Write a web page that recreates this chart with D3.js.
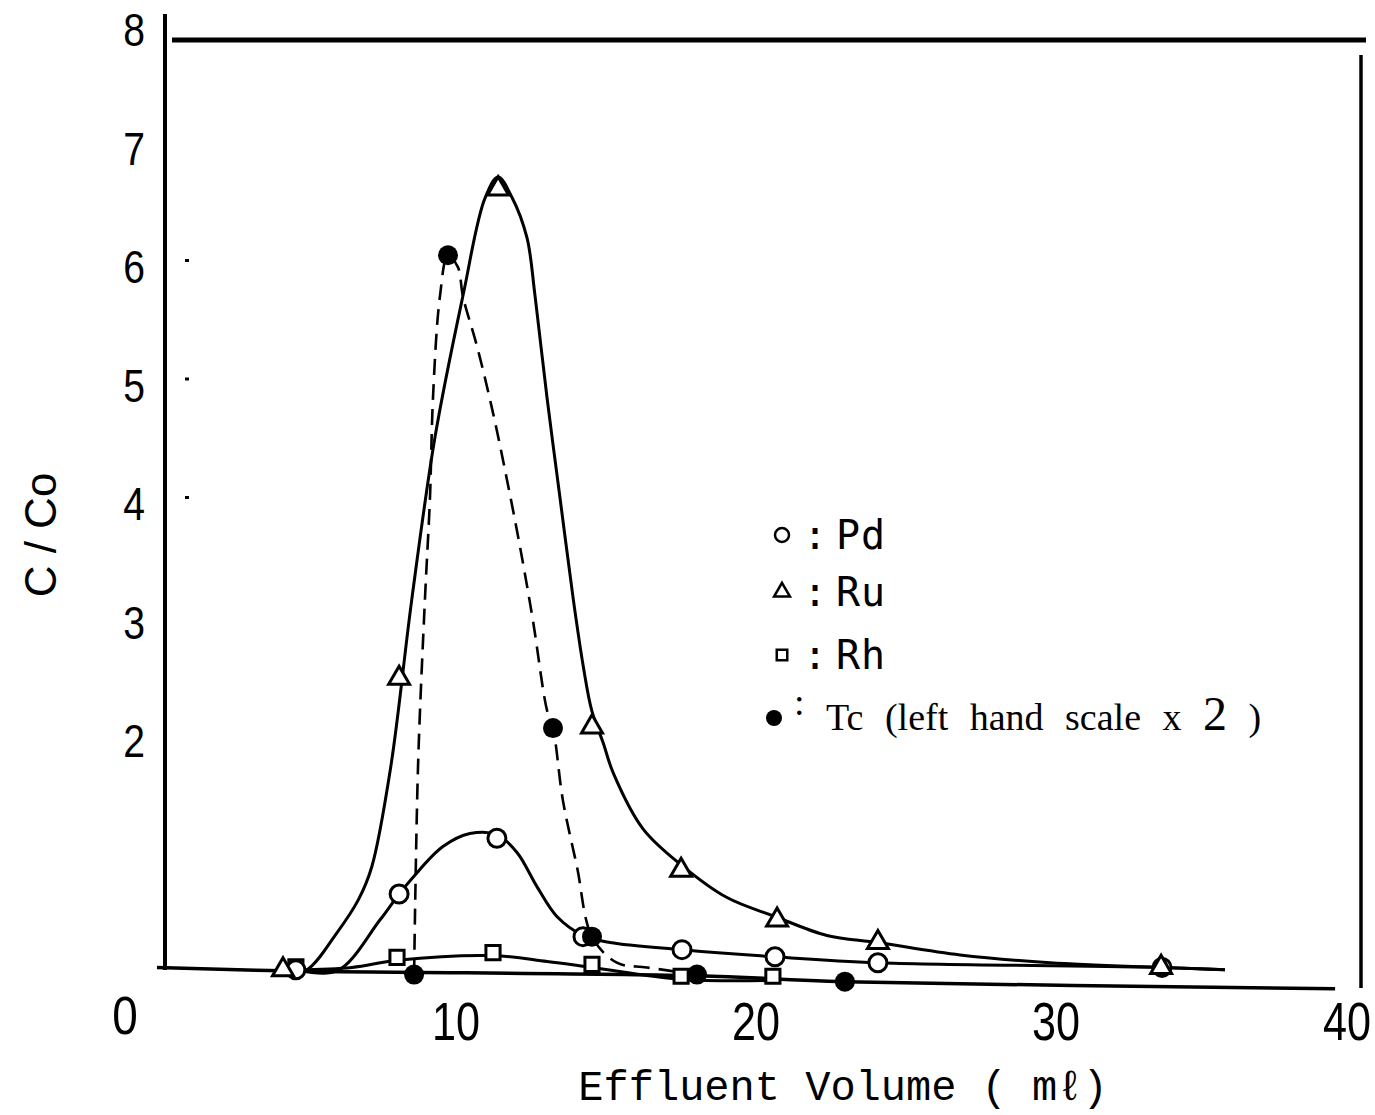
<!DOCTYPE html>
<html lang="en">
<head>
  <meta charset="UTF-8">
  <title>C/Co vs Effluent Volume</title>
  <script src="https://d3js.org/d3.v7.min.js"></script>
  <style>
    body { margin: 0; background: #fff; }
    svg { display: block; }
    .num { font-family: "Liberation Sans", Arial, sans-serif; fill: #000; }
    .legend-txt { font-family: "DejaVu Sans Mono", monospace; font-size: 40px; letter-spacing: 1px; fill: #000; }
    .legend-serif { font-family: "Liberation Serif", "DejaVu Serif", serif; font-size: 38px; fill: #000; }
  </style>
</head>
<body>
<svg id="chart" width="1375" height="1115"></svg>
<script>
// ---- data (x = effluent volume in ml, y = C/Co) ----
const yTicks = [2, 3, 4, 5, 6, 7, 8];
const xTicks = [10, 20, 30, 40];

// marker positions
const pdPoints = [[4.63, 0.01], [8.07, 0.65], [11.33, 1.12], [14.2, 0.29], [17.5, 0.18], [20.6, 0.12], [24.03, 0.07], [33.5, 0.03]];
const ruPoints = [[4.2, 0.01], [8.07, 2.47], [11.37, 6.6], [14.5, 2.06], [17.47, 0.85], [20.67, 0.43], [24.03, 0.24], [33.47, 0.03]];
const rhPoints = [[4.63, 0.01], [8.0, 0.09], [11.2, 0.13], [14.5, 0.03], [17.47, -0.07], [20.53, -0.07]];
const tcPoints = [[8.57, -0.03], [9.7, 6.04], [13.2, 2.05], [14.5, 0.29], [18.0, -0.03], [22.93, -0.09]];

// hand-drawn curves
const pdCurve = [[4.63, 0.01], [6.0, 0.0], [7.43, 0.43], [8.07, 0.65], [8.53, 0.79], [9.53, 1.05], [10.43, 1.16],
  [11.33, 1.15], [12.0, 1.0], [12.67, 0.71], [13.33, 0.46], [14.2, 0.3], [15.1, 0.24], [17.5, 0.18],
  [20.6, 0.12], [24.03, 0.07], [33.5, 0.03], [35.6, 0.01]];
const ruCurve = [[4.4, 0.0], [4.99, 0.01], [5.99, 0.32], [6.71, 0.6], [7.16, 0.88],
  [7.79, 1.72], [8.49, 3.13], [9.27, 4.51], [10.2, 5.7], [10.93, 6.52], [11.37, 6.7], [11.83, 6.53],
  [12.33, 6.19], [12.6, 5.7], [13.0, 4.84], [13.43, 4.0], [13.88, 3.13], [14.21, 2.57], [14.49, 2.2],
  [14.88, 1.92], [15.21, 1.67], [16.2, 1.2], [17.5, 0.89], [19.0, 0.62],
  [20.6, 0.46], [22.33, 0.3], [24.03, 0.24], [26.77, 0.135], [29.77, 0.07], [33.5, 0.03], [35.6, 0.01]];
const rhCurve = [[4.63, 0.01], [6.5, 0.03], [8.0, 0.09], [11.2, 0.13], [13.0, 0.08], [14.5, 0.03], [17.47, -0.07], [20.53, -0.08]];
const tcCurve = [[8.57, -0.03], [8.7, 1.72], [8.93, 3.13], [9.1, 4.0], [9.2, 4.84], [9.43, 5.69], [9.7, 6.04],
  [10.03, 5.94], [10.2, 5.69], [10.67, 5.27], [11.2, 4.71], [11.67, 4.14], [12.1, 3.58], [12.53, 2.96],
  [13.0, 2.2], [13.2, 2.05], [13.53, 1.44], [14.0, 0.88], [14.5, 0.29], [15.33, 0.07], [16.33, 0.03], [18.0, -0.03]];
const baseline = [[0, 0.03], [4.63, 0.0], [18.0, -0.04], [22.93, -0.09], [39.27, -0.15]];

const legendItems = ["Pd", "Ru", "Rh", "Tc (left hand scale x "];

const svg = d3.select("#chart");
const x = d3.scaleLinear().domain([0, 40]).range([157, 1357]);
const y = d3.scaleLinear().domain([0, 8]).range([971, 23]);

// narrow numerals: plain sans squeezed sideways
function narrowText(px, py, str, size, sx) {
  return svg.append("text")
    .attr("class", "num")
    .attr("transform", `translate(${px},${py}) scale(${sx},1)`)
    .attr("text-anchor", "middle")
    .attr("font-size", size)
    .text(str);
}

// frame
svg.append("line").attr("x1", 165).attr("x2", 165).attr("y1", 14).attr("y2", 970)
  .attr("stroke", "#000").attr("stroke-width", 4);
svg.append("line").attr("x1", 172).attr("x2", 1366).attr("y1", 40).attr("y2", 40)
  .attr("stroke", "#000").attr("stroke-width", 5);
svg.append("line").attr("x1", 1361).attr("x2", 1361).attr("y1", 55).attr("y2", 988)
  .attr("stroke", "#000").attr("stroke-width", 3.5);

// y tick labels
yTicks.forEach(d => narrowText(134, y(d) + 23, d, 46, 0.85));
// tiny tick dots on left
svg.selectAll(".ydot").data([4, 5, 6]).enter().append("rect")
  .attr("x", 185).attr("y", d => y(d) - 1).attr("width", 4).attr("height", 3).attr("fill", "#000");

// x tick labels (the last one sits a little in from the frame)
narrowText(125, 1034, "0", 54, 0.85);
xTicks.forEach(d => narrowText(x(d) - (d === 40 ? 10 : 1), 1040, d, 54, 0.8));

// axis titles
svg.append("text")
  .attr("transform", "translate(56,535) rotate(-90)")
  .attr("text-anchor", "middle")
  .attr("class", "num")
  .attr("font-size", 44)
  .text("C / Co");
svg.append("text")
  .attr("x", 843).attr("y", 1100)
  .attr("text-anchor", "middle")
  .attr("font-family", "\"Courier New\", \"Nimbus Mono PS\", FreeMono, \"DejaVu Sans Mono\", monospace")
  .attr("font-size", 42)
  .text("Effluent Volume ( mℓ)");

// curves
const line = d3.line().x(d => x(d[0])).y(d => y(d[1])).curve(d3.curveCatmullRom.alpha(0.5));
const g = svg.append("g").attr("fill", "none").attr("stroke", "#000");
g.append("path").attr("d", line(baseline)).attr("stroke-width", 3.5);
g.append("path").attr("d", line(rhCurve)).attr("stroke-width", 3);
g.append("path").attr("d", line(pdCurve)).attr("stroke-width", 3);
g.append("path").attr("d", line(ruCurve)).attr("stroke-width", 3);
g.append("path").attr("d", line(tcCurve)).attr("stroke-width", 2.6).attr("stroke-dasharray", "16,9");

// markers
const tri = d3.symbol().type(d3.symbolTriangle).size(190);
const sq = d3.symbol().type(d3.symbolSquare).size(200);

svg.append("g").selectAll("path").data(rhPoints).enter().append("path")
  .attr("d", sq).attr("transform", d => `translate(${x(d[0])},${y(d[1]) - 3})`)
  .attr("fill", "#fff").attr("stroke", "#000").attr("stroke-width", 3);
svg.append("g").selectAll("circle").data(pdPoints).enter().append("circle")
  .attr("cx", d => x(d[0])).attr("cy", d => y(d[1])).attr("r", 9)
  .attr("fill", "#fff").attr("stroke", "#000").attr("stroke-width", 3);
svg.append("g").selectAll("path").data(ruPoints).enter().append("path")
  .attr("d", tri).attr("transform", d => `translate(${x(d[0])},${y(d[1])})`)
  .attr("fill", "#fff").attr("stroke", "#000").attr("stroke-width", 3);
svg.append("g").selectAll("circle").data(tcPoints).enter().append("circle")
  .attr("cx", d => x(d[0])).attr("cy", d => y(d[1])).attr("r", 10)
  .attr("fill", "#000");

// legend
const lg = svg.append("g");
const rowY = [535, 592, 655, 718];
lg.append("circle").attr("cx", 782).attr("cy", rowY[0]).attr("r", 7)
  .attr("fill", "#fff").attr("stroke", "#000").attr("stroke-width", 2.5);
lg.append("path").attr("d", d3.symbol().type(d3.symbolTriangle).size(110))
  .attr("transform", `translate(782,${rowY[1]})`)
  .attr("fill", "#fff").attr("stroke", "#000").attr("stroke-width", 2.5);
lg.append("path").attr("d", d3.symbol().type(d3.symbolSquare).size(110))
  .attr("transform", `translate(782,${rowY[2]})`)
  .attr("fill", "#fff").attr("stroke", "#000").attr("stroke-width", 2.5);
lg.append("circle").attr("cx", 774).attr("cy", rowY[3]).attr("r", 8).attr("fill", "#000");

legendItems.slice(0, 3).forEach((name, i) => {
  lg.append("text").attr("class", "legend-txt").attr("x", 803).attr("y", rowY[i] + 14).text(":");
  lg.append("text").attr("class", "legend-txt").attr("x", 836).attr("y", rowY[i] + 14).text(name);
});
lg.append("text").attr("class", "legend-serif").attr("x", 794).attr("y", rowY[3] - 3)
  .attr("font-size", 26).text(":");
const tcText = lg.append("text").attr("class", "legend-serif")
  .attr("x", 826).attr("y", rowY[3] + 12).attr("word-spacing", 12);
tcText.append("tspan").text(legendItems[3]);
tcText.append("tspan").attr("font-size", 48).text("2");
tcText.append("tspan").text(" )");
</script>
</body>
</html>
